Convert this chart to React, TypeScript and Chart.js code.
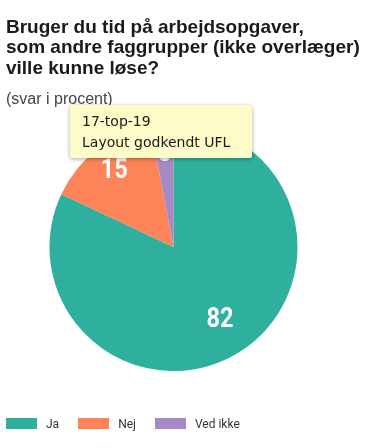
import React, { useEffect, useRef } from "react";
import { Chart, registerables } from "chart.js";

Chart.register(...registerables);

const titleLines = [
  "Bruger du tid på arbejdsopgaver,",
  "som andre faggrupper (ikke overlæger)",
  "ville kunne løse?",
];
const subtitleText = "(svar i procent)";
const categories = ["Ja", "Nej", "Ved ikke"];
const values = [82, 15, 3];
const colors = ["#2fb09e", "#fd8458", "#a58ac6"];
const labelRadiusFractions = [0.7, 0.78, 0.75];
const noteLines = ["17-top-19", "Layout godkendt UFL"];

const valueLabelPlugin = {
  id: "valueLabels",
  afterDatasetsDraw(chart: any) {
    const ctx = chart.ctx;
    const meta = chart.getDatasetMeta(0);
    meta.data.forEach((arc: any, i: number) => {
      const p = arc.getProps(["x", "y", "startAngle", "endAngle", "outerRadius"], true);
      const mid = (p.startAngle + p.endAngle) / 2;
      const r = p.outerRadius * labelRadiusFractions[i];
      const lx = p.x + Math.cos(mid) * r;
      const ly = p.y + Math.sin(mid) * r;
      ctx.save();
      ctx.translate(lx, ly);
      ctx.scale(0.84, 1);
      ctx.fillStyle = "#ffffff";
      ctx.font = "bold 28px Roboto, 'DejaVu Sans', sans-serif";
      ctx.textAlign = "center";
      ctx.textBaseline = "middle";
      ctx.fillText(String(values[i]), 0, 0);
      ctx.restore();
    });
  },
};

export default function App() {
  const ref = useRef<HTMLCanvasElement | null>(null);
  useEffect(() => {
    if (!ref.current) return;
    const chart = new Chart(ref.current, {
      type: "pie",
      data: {
        labels: categories,
        datasets: [
          {
            data: values,
            backgroundColor: colors,
            borderWidth: 0,
            radius: 124,
          },
        ],
      },
      options: {
        animation: false,
        responsive: false,
        maintainAspectRatio: false,
        layout: { padding: { top: 120, left: 6, right: 25, bottom: 74 } },
        plugins: {
          legend: { display: false },
          tooltip: { enabled: false },
          title: { display: false },
        },
      },
      plugins: [valueLabelPlugin],
    });
    return () => chart.destroy();
  }, []);

  return (
    <div style={{ position: "fixed", left: 0, top: 0, width: 366, height: 448, background: "#ffffff", overflow: "hidden" }}>
      <canvas ref={ref} width={366} height={448} style={{ position: "absolute", left: 0, top: 0, width: 366, height: 448 }} />
      <div
        style={{
          position: "absolute",
          left: 6,
          top: 16.5,
          width: 366,
          fontFamily: "'Liberation Sans', Arial, sans-serif",
          fontWeight: "bold",
          fontSize: 19,
          lineHeight: "20.5px",
          color: "#1a1a1a",
          whiteSpace: "nowrap",
        }}
      >
        {titleLines.map((t) => (
          <div key={t}>{t}</div>
        ))}
      </div>
      <div
        style={{
          position: "absolute",
          left: 6,
          top: 89.3,
          fontFamily: "'Liberation Sans', Arial, sans-serif",
          fontSize: 16,
          lineHeight: "19.2px",
          color: "#444444",
          whiteSpace: "nowrap",
        }}
      >
        {subtitleText}
      </div>
      <div
        style={{
          position: "absolute",
          left: 70,
          top: 105,
          width: 182,
          height: 53,
          boxSizing: "border-box",
          background: "#fdfbc8",
          boxShadow: "0 1px 4px rgba(0,0,0,0.35)",
          borderRadius: 2,
          padding: "6px 0 0 12px",
          fontFamily: "'DejaVu Sans', sans-serif",
          fontSize: 14,
          lineHeight: "21px",
          color: "#1a1a1a",
        }}
      >
        {noteLines.map((t) => (
          <div key={t}>{t}</div>
        ))}
      </div>
      <div
        style={{
          position: "absolute",
          left: 6,
          top: 416,
          display: "flex",
          alignItems: "center",
          fontFamily: "Roboto, sans-serif",
          fontSize: 12,
          color: "#333333",
          height: 15,
        }}
      >
        {categories.map((c, i) => (
          <div key={c} style={{ display: "flex", alignItems: "center", marginRight: 19 }}>
            <span style={{ display: "inline-block", width: 31, height: 11, background: colors[i], marginRight: 9 }} />
            <span>{c}</span>
          </div>
        ))}
      </div>
    </div>
  );
}
